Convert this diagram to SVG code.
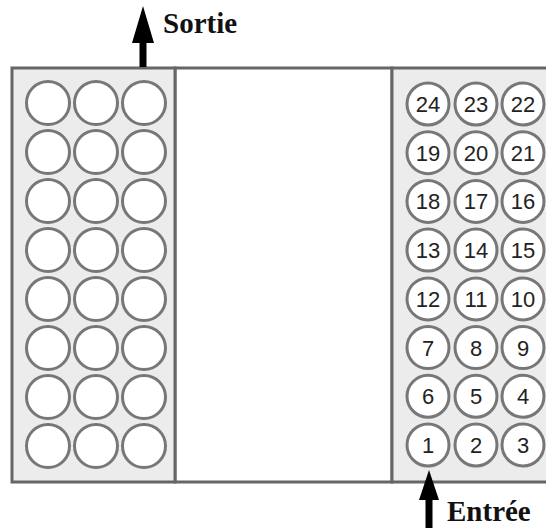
<svg xmlns="http://www.w3.org/2000/svg" width="546" height="528" viewBox="0 0 546 528">
<defs>
<style>
.panel{fill:#ececec;stroke:#666;stroke-width:3}
.mid{fill:#fff;stroke:#666;stroke-width:3}
.c{fill:#fff;stroke:#777;stroke-width:3}
.n{font-family:"Liberation Sans",Arial,sans-serif;font-size:22px;fill:#222;text-anchor:middle}
.lbl{font-family:"Liberation Serif","Times New Roman",serif;font-weight:bold;font-size:29px;fill:#111}
.arr{fill:#000}
</style>
</defs>
<g id="panels">
<rect class="mid" x="175" y="68" width="217" height="414"/>
<rect class="panel" x="12" y="68" width="163" height="414"/>
<rect class="panel" x="392" y="68" width="160" height="414"/>
</g>
<g id="left-wells">
<circle class="c" cx="48" cy="103" r="21.5"/><circle class="c" cx="96" cy="103" r="21.5"/><circle class="c" cx="144" cy="103" r="21.5"/>
<circle class="c" cx="48" cy="152" r="21.5"/><circle class="c" cx="96" cy="152" r="21.5"/><circle class="c" cx="144" cy="152" r="21.5"/>
<circle class="c" cx="48" cy="201" r="21.5"/><circle class="c" cx="96" cy="201" r="21.5"/><circle class="c" cx="144" cy="201" r="21.5"/>
<circle class="c" cx="48" cy="250" r="21.5"/><circle class="c" cx="96" cy="250" r="21.5"/><circle class="c" cx="144" cy="250" r="21.5"/>
<circle class="c" cx="48" cy="299" r="21.5"/><circle class="c" cx="96" cy="299" r="21.5"/><circle class="c" cx="144" cy="299" r="21.5"/>
<circle class="c" cx="48" cy="348" r="21.5"/><circle class="c" cx="96" cy="348" r="21.5"/><circle class="c" cx="144" cy="348" r="21.5"/>
<circle class="c" cx="48" cy="397" r="21.5"/><circle class="c" cx="96" cy="397" r="21.5"/><circle class="c" cx="144" cy="397" r="21.5"/>
<circle class="c" cx="48" cy="446" r="21.5"/><circle class="c" cx="96" cy="446" r="21.5"/><circle class="c" cx="144" cy="446" r="21.5"/>
</g>
<g id="right-wells">
<g id="row8"><circle class="c" cx="428" cy="104" r="21"/><circle class="c" cx="476" cy="104" r="21"/><circle class="c" cx="523" cy="104" r="21"/>
<text class="n" x="428" y="112">24</text><text class="n" x="476" y="112">23</text><text class="n" x="523" y="112">22</text></g>
<g id="row7"><circle class="c" cx="428" cy="152.7" r="21"/><circle class="c" cx="476" cy="152.7" r="21"/><circle class="c" cx="523" cy="152.7" r="21"/>
<text class="n" x="428" y="160.7">19</text><text class="n" x="476" y="160.7">20</text><text class="n" x="523" y="160.7">21</text></g>
<g id="row6"><circle class="c" cx="428" cy="201.4" r="21"/><circle class="c" cx="476" cy="201.4" r="21"/><circle class="c" cx="523" cy="201.4" r="21"/>
<text class="n" x="428" y="209.4">18</text><text class="n" x="476" y="209.4">17</text><text class="n" x="523" y="209.4">16</text></g>
<g id="row5"><circle class="c" cx="428" cy="250.1" r="21"/><circle class="c" cx="476" cy="250.1" r="21"/><circle class="c" cx="523" cy="250.1" r="21"/>
<text class="n" x="428" y="258.1">13</text><text class="n" x="476" y="258.1">14</text><text class="n" x="523" y="258.1">15</text></g>
<g id="row4"><circle class="c" cx="428" cy="298.9" r="21"/><circle class="c" cx="476" cy="298.9" r="21"/><circle class="c" cx="523" cy="298.9" r="21"/>
<text class="n" x="428" y="306.9">12</text><text class="n" x="476" y="306.9">11</text><text class="n" x="523" y="306.9">10</text></g>
<g id="row3"><circle class="c" cx="428" cy="347.6" r="21"/><circle class="c" cx="476" cy="347.6" r="21"/><circle class="c" cx="523" cy="347.6" r="21"/>
<text class="n" x="428" y="355.6">7</text><text class="n" x="476" y="355.6">8</text><text class="n" x="523" y="355.6">9</text></g>
<g id="row2"><circle class="c" cx="428" cy="396.3" r="21"/><circle class="c" cx="476" cy="396.3" r="21"/><circle class="c" cx="523" cy="396.3" r="21"/>
<text class="n" x="428" y="404.3">6</text><text class="n" x="476" y="404.3">5</text><text class="n" x="523" y="404.3">4</text></g>
<g id="row1"><circle class="c" cx="428" cy="445" r="21"/><circle class="c" cx="476" cy="445" r="21"/><circle class="c" cx="523" cy="445" r="21"/>
<text class="n" x="428" y="453">1</text><text class="n" x="476" y="453">2</text><text class="n" x="523" y="453">3</text></g>
</g>
<g id="connectors">
<path class="arr" d="M143 6 L154 43 L146.5 43 L146.5 67 L139.5 67 L139.5 43 L132 43 Z"/>
<path class="arr" d="M429 470 L439 500 L432.5 500 L432.5 528 L425.5 528 L425.5 500 L419 500 Z"/>
</g>
<g id="labels">
<text class="lbl" x="163" y="33">Sortie</text>
<text class="lbl" x="447" y="521">Entrée</text>
</g>
</svg>
